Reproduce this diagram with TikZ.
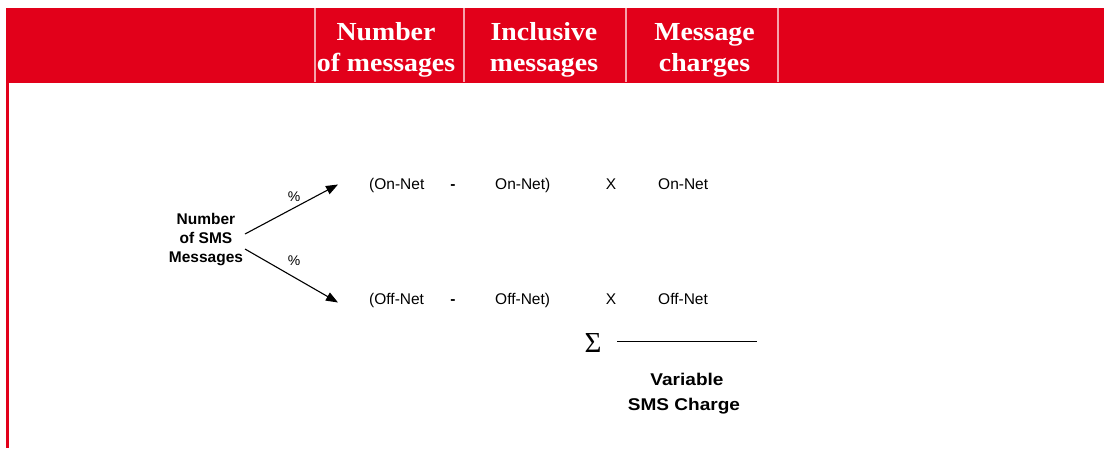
\documentclass[tikz,border=0pt]{standalone}
\usepackage{fontspec}
\setmainfont{Liberation Serif}
\setsansfont{Liberation Sans}
\usetikzlibrary{arrows.meta}

\definecolor{bandred}{HTML}{E2001A}
\definecolor{bandrule}{HTML}{F5A3AC}

\tikzset{
  headtext/.style={text=white, anchor=base, inner sep=0pt, xscale=1.07,
    font=\fontsize{26}{30}\selectfont\bfseries},
  termtext/.style={anchor=base, inner sep=0pt,
    font=\sffamily\fontsize{15.5}{19}\selectfont},
  boldtext/.style={inner sep=0pt, align=center,
    font=\sffamily\bfseries\fontsize{15.5}{19}\selectfont},
  splitarrow/.style={line width=1.1pt, -{Triangle[length=12pt,width=9pt]}}
}

\begin{document}
\begin{tikzpicture}[x=1pt, y=-1pt]
    \useasboundingbox (0,0) rectangle (1104,448);

    % Draw the red header band and the left margin rule
    \fill[bandred] (6,8) rectangle (1104,83);
    \fill[bandred] (6,83) rectangle (9,448);

    % Column dividers in the band
    \foreach \x in {315,464,626,778}
      \draw[bandrule, line width=2pt] (\x,8) -- (\x,82);

    % Column headings
    \node[headtext] (colnum) at (386,40.5) {Number};
    \node[headtext] (colnumb) at (386,71) {of messages};
    \node[headtext] (colinc) at (544,40.5) {Inclusive};
    \node[headtext] (colincb) at (544,71) {messages};
    \node[headtext] (colchg) at (704.5,40.5) {Message};
    \node[headtext] (colchgb) at (704.5,71) {charges};

    % Total number of messages, split in two
    \node[boldtext] (sms) at (206,240) {Number\\of SMS\\Messages};
    \coordinate (splittop) at (245,234);
    \coordinate (splitbot) at (245,249);
    \coordinate (ontip) at (338,184.5);
    \coordinate (offtip) at (338,302.5);
    \draw[splitarrow] (splittop) -- (ontip);
    \draw[splitarrow] (splitbot) -- (offtip);
    \node[termtext, font=\sffamily\fontsize{14}{14}\selectfont] (onpct) at (294,201) {\%};
    \node[termtext, font=\sffamily\fontsize{14}{14}\selectfont] (offpct) at (294,265) {\%};

    % On-net row
    \node[termtext, anchor=base west] (onall) at (369,189.5) {(On-Net};
    \node[termtext, font=\sffamily\bfseries\fontsize{15.5}{19}\selectfont] (onminus) at (453,189.5) {-};
    \node[termtext, anchor=base west] (onincl) at (495,189.5) {On-Net)};
    \node[termtext] (ontimes) at (611,189.5) {X};
    \node[termtext, anchor=base west] (onrate) at (658,189.5) {On-Net};

    % Off-net row
    \node[termtext, anchor=base west] (offall) at (369,304.5) {(Off-Net};
    \node[termtext, font=\sffamily\bfseries\fontsize{15.5}{19}\selectfont] (offminus) at (453,304.5) {-};
    \node[termtext, anchor=base west] (offincl) at (495,304.5) {Off-Net)};
    \node[termtext] (offtimes) at (611,304.5) {X};
    \node[termtext, anchor=base west] (offrate) at (658,304.5) {Off-Net};

    % Sum of both rows
    \node[inner sep=0pt, anchor=base, font=\fontsize{29}{29}\selectfont] (sum) at (593,352.5) {Σ};
    \coordinate (sumstart) at (617,341);
    \coordinate (sumend) at (757,341);
    \draw[line width=1pt] (sumstart) -- (sumend);
    \node[boldtext, anchor=base, font=\sffamily\bfseries\fontsize{17}{17}\selectfont, xscale=1.12] (total) at (687,385) {Variable};
    \node[boldtext, anchor=base, font=\sffamily\bfseries\fontsize{17}{17}\selectfont, xscale=1.12] (totalb) at (684,410.5) {SMS Charge};
\end{tikzpicture}
\end{document}
